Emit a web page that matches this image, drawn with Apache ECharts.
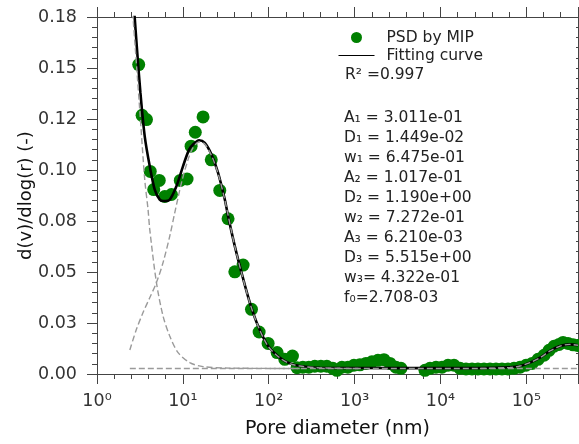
<!DOCTYPE html>
<html><head><meta charset="utf-8">
<script src="https://cdn.jsdelivr.net/npm/echarts@6/dist/echarts.min.js"></script>
<style>html,body{margin:0;padding:0;background:#fff}#c{width:579px;height:444px}#log{position:absolute;left:110px;top:300px;font:11px monospace;color:red;white-space:pre-wrap;width:460px;margin:0}</style>
</head><body><div id="c"></div><pre id="log"></pre>
<script>
const logEl = document.getElementById('log');
window.onerror = (m, s, l, c) => { logEl.textContent += 'ERR ' + m + ' @' + l + ':' + c + '\n'; };

// Measured PSD by MIP (pore diameter in nm, d(v)/dlog(r))
const mipDiameter = [3.06, 3.35, 3.77, 4.17, 4.58, 5.31, 6.15, 7.36, 9.33, 11.19, 12.47, 13.95, 17.19, 21.42, 26.9, 33.6, 40.3, 50.3, 63.0, 77.3, 98.4, 125.3, 154, 189, 214,
  249.5, 293, 344, 405, 475, 558, 622, 711, 836, 982,
  1153, 1355, 1592, 1871, 2198, 2582, 3034, 3467,
  6607, 7551, 8872, 10420, 12240, 14390, 16900,
  19860, 23330, 27350, 32140, 37760, 44360, 52120, 61240,
  71950, 84530, 99300, 116700, 137100, 161100, 184100, 210500, 240700, 267800, 306400, 350600, 395000];
const mipValue = [0.1517, 0.1268, 0.1247, 0.0993, 0.0904, 0.0949, 0.0870, 0.0880, 0.0949, 0.0956, 0.1117, 0.1185, 0.1260, 0.1050, 0.0900, 0.0761, 0.0501, 0.0534, 0.0317, 0.0206, 0.0150, 0.0105, 0.0072, 0.0088, 0.0031,
  0.0033, 0.0033, 0.0038, 0.0038, 0.0038, 0.0028, 0.0018, 0.0033, 0.0033, 0.0043,
  0.0045, 0.0052, 0.0060, 0.0067, 0.0070, 0.0052, 0.0033, 0.0028,
  0.0018, 0.0028, 0.0033, 0.0033, 0.0043, 0.0043, 0.0028,
  0.0025, 0.0025, 0.0025, 0.0025, 0.0025, 0.0025, 0.0025, 0.0025,
  0.0028, 0.0033, 0.0043, 0.0052, 0.0072, 0.0092, 0.0116, 0.0136, 0.0145, 0.0155, 0.0150, 0.0143, 0.0140];

// Fitting curve
const fitDiameter = [2.629, 2.751, 2.925, 3.205, 3.597, 4.114, 4.704, 5.381, 5.99, 7.037, 8.423, 10.05, 11.81, 13.15, 15.45, 17.99, 21.55, 25.72, 30.79, 33.63, 40.26, 48.19, 60.22, 75.22, 98.4, 134.7, 176.2, 230.4, 394.1, 3373, 28840, 64570, 84530, 110400, 144500, 188800, 247000, 323000, 400000];
const fitValue = [0.186, 0.1745, 0.159, 0.1378, 0.1165, 0.1019, 0.0904, 0.0855, 0.0848, 0.0855, 0.0921, 0.1019, 0.1100, 0.1125, 0.1146, 0.1133, 0.1076, 0.0986, 0.0855, 0.0774, 0.0627, 0.0497, 0.0350, 0.0235, 0.0137, 0.0080, 0.0052, 0.0039, 0.0030, 0.0029, 0.0029, 0.0033, 0.0039, 0.0056, 0.0080, 0.0113, 0.0137, 0.0145, 0.0141];

// Component 1
const comp1Diameter = [2.511, 2.629, 3.146, 3.597, 3.93, 4.114, 4.923, 5.877, 7.037, 8.795, 12.03, 17.19, 35.21, 230];
const comp1Value = [0.186, 0.1747, 0.1296, 0.0953, 0.0807, 0.0709, 0.0448, 0.0284, 0.0186, 0.0105, 0.0056, 0.0036, 0.0029, 0.0027];
// Component 2
const comp2Diameter = [2.412, 2.879, 3.437, 4.114, 4.923, 5.877, 7.037, 8.045, 9.632, 11.5, 13.15, 15.45, 17.99, 21.55, 25.72, 30.79, 40.26, 48.19, 60.22, 75.22, 98.4, 134.7, 176.2, 230.4, 394.1, 1153];
const comp2Value = [0.0118, 0.0219, 0.0301, 0.0374, 0.0448, 0.0546, 0.0676, 0.0790, 0.0937, 0.1051, 0.1110, 0.1137, 0.1127, 0.1071, 0.0983, 0.0853, 0.0625, 0.0496, 0.0349, 0.0234, 0.0136, 0.0079, 0.0051, 0.0039, 0.0030, 0.0027];
// Component 3
const comp3Diameter = [28840, 64570, 84530, 110400, 144500, 188800, 247000, 323000, 400000];
const comp3Value = [0.0027, 0.0032, 0.0039, 0.0056, 0.0080, 0.0113, 0.0137, 0.0145, 0.0141];
// Baseline f0
const baseDiameter = [2.412, 400000];
const baseValue = [0.0027, 0.0027];

// Axis extents / tick labels
const xMinDiameter = 1, xMaxDiameter = 400000;
const yTickLabels = ['0.00', '0.03', '0.05', '0.08', '0.10', '0.12', '0.15', '0.18'];
const xSup = ['⁰', '¹', '²', '³', '⁴', '⁵', '⁶'];
const legendNames = ['PSD by MIP', 'Fitting curve'];
const r2Text = 'R² =0.997';
const paramLines = ['A₁ = 3.011e-01', 'D₁ = 1.449e-02', 'w₁ = 6.475e-01', 'A₂ = 1.017e-01', 'D₂ = 1.190e+00', 'w₂ = 7.272e-01', 'A₃ = 6.210e-03', 'D₃ = 5.515e+00', 'w₃= 4.322e-01', 'f₀=2.708-03'];

// the x axis is a value axis over log10(diameter)
const zipLog = (a, b) => a.map((v, i) => [Math.log10(v), b[i]]);
const FONT = 'DejaVu Sans';
const AX = '#444';

try {
const xCommon = {
  type: 'value', min: Math.log10(xMinDiameter), max: Math.log10(xMaxDiameter), interval: 1,
  axisLine: { show: true, onZero: false, lineStyle: { color: AX, width: 1 } },
  axisTick: { show: true, length: 10, lineStyle: { color: AX, width: 1 } },
  minorTick: { show: true, splitNumber: 5, length: 5, lineStyle: { color: AX, width: 1 } },
  splitLine: { show: false }, minorSplitLine: { show: false }
};
const yCommon = {
  type: 'value', min: 0, max: 0.175, interval: 0.025,
  axisLine: { show: true, onZero: false, lineStyle: { color: AX, width: 1 } },
  splitLine: { show: false }, minorSplitLine: { show: false }
};
const lineCommon = { type: 'line', symbol: 'none', showSymbol: false, clip: true };
const dashStyle = { color: '#9a9a9a', width: 1.4, type: [6, 3] };

const chart = echarts.init(document.getElementById('c'));
chart.setOption({
  animation: false,
  backgroundColor: '#fff',
  grid: { left: 97, right: 1, top: 17, bottom: 69 },
  legend: {
    orient: 'vertical', left: 338, top: 29.5, padding: 0,
    itemWidth: 36, itemHeight: 11, itemGap: 2,
    textStyle: { fontFamily: FONT, fontSize: 15.5, color: '#222', padding: [0, 0, 0, 7] },
    data: [
      { name: legendNames[0], icon: 'circle' },
      { name: legendNames[1], itemStyle: { opacity: 0, color: 'rgba(0,0,0,0)' }, lineStyle: { width: 1, color: '#000' } }
    ]
  },
  xAxis: [
    Object.assign({}, xCommon, {
      position: 'bottom',
      axisLabel: {
        fontFamily: FONT, fontSize: 17.5, color: '#333', margin: 18, showMaxLabel: false,
        formatter: v => { const e = Math.round(v); return Math.abs(v - e) < 1e-6 ? '10' + xSup[e] : ''; }
      },
      name: 'Pore diameter (nm)', nameLocation: 'middle', nameGap: 46, nameMoveOverlap: false,
      nameTextStyle: { fontFamily: FONT, fontSize: 19, color: '#111' }
    }),
    Object.assign({}, xCommon, { position: 'top', axisLabel: { show: false } })
  ],
  yAxis: [
    Object.assign({}, yCommon, {
      position: 'left',
      axisTick: { show: true, length: 10, lineStyle: { color: AX, width: 1 } },
      minorTick: { show: true, splitNumber: 5, length: 5, lineStyle: { color: AX, width: 1 } },
      axisLabel: {
        fontFamily: FONT, fontSize: 17.5, color: '#333', margin: 20,
        formatter: v => yTickLabels[Math.round(v / 0.025)]
      },
      name: 'd(v)/dlog(r) (-)', nameLocation: 'middle', nameGap: 62, nameRotate: 90, nameMoveOverlap: false,
      nameTextStyle: { fontFamily: FONT, fontSize: 18, color: '#111' }
    }),
    Object.assign({}, yCommon, {
      position: 'right',
      axisTick: { show: true, inside: true, length: 2, lineStyle: { color: AX, width: 1 } },
      minorTick: { show: true, splitNumber: 5, length: 2, lineStyle: { color: AX, width: 1 } },
      axisLabel: { show: false }
    })
  ],
  series: [
    {
      name: legendNames[0], type: 'scatter', data: zipLog(mipDiameter, mipValue),
      symbol: 'circle', symbolSize: 13, itemStyle: { color: '#008000', opacity: 1 }, z: 2
    },
    Object.assign({}, lineCommon, {
      name: legendNames[1], data: zipLog(fitDiameter, fitValue),
      smooth: 0.3, itemStyle: { color: '#000' }, lineStyle: { color: '#000', width: 2.6 }, z: 3
    }),
    Object.assign({}, lineCommon, { name: 'c1', data: zipLog(comp1Diameter, comp1Value), smooth: 0.3, lineStyle: dashStyle, z: 4 }),
    Object.assign({}, lineCommon, { name: 'c2', data: zipLog(comp2Diameter, comp2Value), smooth: 0.3, lineStyle: dashStyle, z: 4 }),
    Object.assign({}, lineCommon, { name: 'c3', data: zipLog(comp3Diameter, comp3Value), smooth: 0.3, lineStyle: dashStyle, z: 4 }),
    Object.assign({}, lineCommon, { name: 'f0', data: zipLog(baseDiameter, baseValue), lineStyle: dashStyle, z: 4 })
  ],
  graphic: [
    { type: 'text', x: 345, y: 75, style: { text: r2Text, fontFamily: FONT, fontSize: 15.5, fill: '#222', verticalAlign: 'middle' } },
    { type: 'text', x: 344, y: 108.3, style: { text: paramLines.join('\n'), fontFamily: FONT, fontSize: 15.5, lineHeight: 20, fill: '#222', verticalAlign: 'top' } }
  ]
});
} catch (e) { logEl.textContent += 'CATCH ' + e.message + '\n' + String(e.stack).slice(0, 400); }
</script>
</body></html>
